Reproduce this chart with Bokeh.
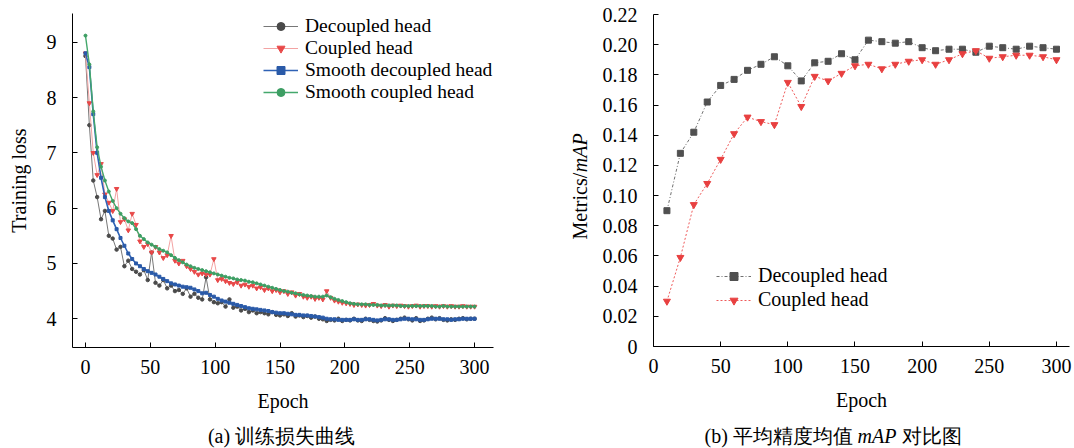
import math
from bokeh.plotting import figure
from bokeh.layouts import row, column
from bokeh.models import (Legend, LegendItem, Label, FixedTicker, CustomJSTickFormatter,
                          Range1d)
from bokeh.embed import file_html
from bokeh.resources import INLINE

FONT = "Liberation Serif"

# ---------------- data: (a) training loss ----------------
EPOCHS_A = list(range(0, 301, 3))

DECOUPLED_LOSS = [
    8.75, 7.50, 6.50, 6.20, 5.80, 5.95, 5.50, 5.45, 5.25, 5.30,
    4.95, 5.05, 4.90, 4.85, 4.80, 4.88, 4.70, 5.20, 4.65, 4.60,
    4.70, 4.55, 4.60, 4.50, 4.52, 4.45, 4.55, 4.40, 4.45, 4.38,
    4.35, 4.75, 4.35, 4.30, 4.28, 4.30, 4.22, 4.35, 4.20, 4.22,
    4.15, 4.18, 4.12, 4.15, 4.10, 4.12, 4.10, 4.08, 4.12, 4.07,
    4.06, 4.08, 4.05, 4.10, 4.04, 4.06, 4.03, 4.05, 4.02, 4.04,
    4.00, 3.99, 3.96, 3.98, 3.97, 4.00, 3.96, 3.98, 3.97, 4.00,
    3.97, 3.96, 4.00, 3.98, 3.96, 3.95, 3.97, 4.01, 3.98, 3.96,
    3.98, 4.00, 4.02, 3.99, 3.97, 4.01, 3.96, 3.97, 4.00, 4.02,
    3.99, 4.01, 3.98, 3.97, 3.99, 3.98, 4.00, 4.01, 3.99, 4.00,
    4.00,
]

COUPLED_LOSS = [
    8.80, 7.90, 7.00, 6.60, 6.80, 6.25, 6.10, 5.95, 6.35, 5.75,
    5.80, 5.60, 5.90, 5.70, 5.40, 5.30, 5.35, 5.20, 5.30, 5.20,
    5.10, 5.15, 5.50, 5.05, 5.00, 5.05, 4.95, 4.90, 4.85, 4.80,
    4.82, 4.80, 4.80, 5.08, 4.70, 4.72, 4.68, 4.65, 4.63, 4.66,
    4.60, 4.62, 4.58, 4.60, 4.55, 4.57, 4.52, 4.55, 4.50, 4.52,
    4.48, 4.50, 4.45, 4.48, 4.42, 4.45, 4.40, 4.38, 4.40, 4.36,
    4.38, 4.35, 4.50, 4.38, 4.33, 4.31, 4.29, 4.28, 4.27, 4.25,
    4.26, 4.25, 4.24, 4.25, 4.27, 4.24, 4.23, 4.25, 4.22, 4.24,
    4.23, 4.24, 4.23, 4.22, 4.23, 4.24, 4.22, 4.23, 4.23, 4.22,
    4.23, 4.22, 4.23, 4.22, 4.23, 4.22, 4.22, 4.23, 4.22, 4.22,
    4.22,
]

SMOOTH_DECOUPLED_LOSS = [
    8.80, 8.55, 7.70, 7.00, 6.55, 6.20, 5.95, 5.78, 5.62, 5.46,
    5.32, 5.18, 5.08, 5.00, 4.95, 4.90, 4.86, 4.83, 4.80, 4.76,
    4.72, 4.68, 4.64, 4.62, 4.60, 4.58, 4.57, 4.56, 4.53, 4.50,
    4.46, 4.47, 4.43, 4.40, 4.36, 4.33, 4.31, 4.29, 4.27, 4.25,
    4.23, 4.21, 4.19, 4.18, 4.17, 4.16, 4.15, 4.14, 4.12, 4.11,
    4.10, 4.10, 4.09, 4.08, 4.07, 4.07, 4.06, 4.06, 4.05, 4.04,
    4.03, 4.02, 4.00, 3.99, 3.99, 3.98, 3.98, 3.98, 3.98, 3.99,
    3.98, 3.98, 3.99, 3.99, 3.98, 3.97, 3.98, 3.99, 3.99, 3.98,
    3.98, 3.99, 4.00, 4.00, 3.99, 3.99, 3.98, 3.98, 3.99, 4.00,
    4.00, 4.00, 3.99, 3.99, 3.98, 3.99, 3.99, 4.00, 4.00, 4.00,
    4.00,
]

SMOOTH_COUPLED_LOSS = [
    9.12, 8.60, 7.75, 7.10, 6.75, 6.50, 6.30, 6.13, 6.00, 5.90,
    5.82, 5.76, 5.73, 5.62, 5.50, 5.44, 5.38, 5.34, 5.30, 5.26,
    5.23, 5.20, 5.15, 5.10, 5.06, 5.02, 4.98, 4.95, 4.92, 4.90,
    4.88, 4.86, 4.84, 4.82, 4.80, 4.78, 4.76, 4.74, 4.73, 4.71,
    4.70, 4.69, 4.67, 4.66, 4.64, 4.62, 4.60, 4.58, 4.56, 4.54,
    4.52, 4.50, 4.49, 4.47, 4.46, 4.44, 4.43, 4.42, 4.41, 4.40,
    4.40, 4.40, 4.42, 4.39, 4.36, 4.34, 4.32, 4.30, 4.28, 4.27,
    4.26, 4.26, 4.26, 4.25, 4.25, 4.25, 4.24, 4.24, 4.24, 4.24,
    4.24, 4.23, 4.23, 4.23, 4.23, 4.23, 4.23, 4.23, 4.23, 4.23,
    4.22, 4.22, 4.23, 4.22, 4.22, 4.22, 4.22, 4.22, 4.22, 4.22,
    4.22,
]

# ---------------- data: (b) mAP ----------------
EPOCHS_B = [10, 20, 30, 40, 50, 60, 70, 80, 90, 100,
            110, 120, 130, 140, 150, 160, 170, 180, 190, 200,
            210, 220, 230, 240, 250, 260, 270, 280, 290, 300]
DECOUPLED_MAP = [0.090, 0.128, 0.142, 0.162, 0.173, 0.177, 0.183, 0.187, 0.192, 0.186,
                 0.176, 0.188, 0.189, 0.194, 0.190, 0.203, 0.202, 0.201, 0.202, 0.198,
                 0.196, 0.197, 0.197, 0.195, 0.199, 0.198, 0.197, 0.199, 0.198, 0.197]
COUPLED_MAP = [0.030, 0.059, 0.094, 0.108, 0.124, 0.141, 0.152, 0.149, 0.147, 0.175,
               0.159, 0.179, 0.176, 0.181, 0.186, 0.187, 0.184, 0.187, 0.189, 0.190,
               0.187, 0.190, 0.194, 0.196, 0.191, 0.192, 0.193, 0.193, 0.192, 0.190]

X_TICKS = [0, 50, 100, 150, 200, 250, 300]
Y_TICKS_A = [4, 5, 6, 7, 8, 9]
Y_TICKS_B = [0, 0.02, 0.04, 0.06, 0.08, 0.10, 0.12, 0.14, 0.16, 0.18, 0.20, 0.22]


def style(p, x_standoff, y_standoff):
    for ax in (p.xaxis[0], p.yaxis[0]):
        ax.major_tick_in = 5
        ax.major_tick_out = 0
        ax.minor_tick_line_color = None
        ax.axis_line_color = "black"
        ax.major_tick_line_color = "black"
        ax.major_label_text_font = FONT
        ax.major_label_text_font_size = "20px"
        ax.major_label_text_color = "black"
        ax.axis_label_text_font = FONT
        ax.axis_label_text_font_style = "normal"
        ax.axis_label_text_font_size = "20px"
        ax.axis_label_text_color = "black"
    p.xaxis[0].major_label_standoff = x_standoff
    p.yaxis[0].major_label_standoff = y_standoff
    p.xgrid.visible = False
    p.ygrid.visible = False
    p.outline_line_color = None
    p.background_fill_color = None
    p.border_fill_color = None


def blank(w, h):
    f = figure(width=w, height=h, x_range=Range1d(0, w), y_range=Range1d(0, h),
               x_axis_type=None, y_axis_type=None, output_backend="svg",
               toolbar_location=None, min_border=0)
    f.grid.visible = False
    f.outline_line_color = None
    f.background_fill_color = None
    f.border_fill_color = None
    return f


def text_label(x, y, text, align="left", italic=False, angle=0.0):
    return Label(x=x, y=y, angle=angle,
                 text=text, text_align=align, text_baseline="middle",
                 text_font=FONT, text_font_style="italic" if italic else "normal",
                 text_font_size="20px", text_color="black")


H_PLOT = 415
H_CAP = 33

# ---------------- figure (a) ----------------
pa = figure(width=560, height=H_PLOT, output_backend="svg", toolbar_location=None,
            x_range=Range1d(-10, 314.6), y_range=Range1d(3.48, 9.52),
            min_border_left=72, min_border_right=67, min_border_top=13,
            min_border_bottom=H_PLOT - 347)
style(pa, 12, 16)
pa.xaxis[0].ticker = FixedTicker(ticks=X_TICKS)
pa.yaxis[0].ticker = FixedTicker(ticks=Y_TICKS_A)
pa.xaxis[0].axis_label = "Epoch"
pa.xaxis[0].axis_label_standoff = 13
pa.yaxis[0].axis_label = "Training loss"
pa.yaxis[0].axis_label_standoff = 14

g_line = pa.line(EPOCHS_A, DECOUPLED_LOSS, line_color="#777777", line_width=1)
g_pts = pa.scatter(EPOCHS_A, DECOUPLED_LOSS, marker="circle", size=3.5,
                   fill_color="#4a4a4a", line_color="#4a4a4a")
r_line = pa.line(EPOCHS_A, COUPLED_LOSS, line_color="#f3a3a3", line_width=1)
r_pts = pa.scatter(EPOCHS_A, COUPLED_LOSS, marker="inverted_triangle", size=4.5,
                   fill_color="#e84848", line_color="#e84848")
b_line = pa.line(EPOCHS_A, SMOOTH_DECOUPLED_LOSS, line_color="#2f62b5", line_width=1.6)
b_pts = pa.scatter(EPOCHS_A, SMOOTH_DECOUPLED_LOSS, marker="square", size=3,
                   fill_color="#2a5aa8", line_color="#2a5aa8")
gr_line = pa.line(EPOCHS_A, SMOOTH_COUPLED_LOSS, line_color="#44a86c", line_width=1.4)
gr_pts = pa.scatter(EPOCHS_A, SMOOTH_COUPLED_LOSS, marker="circle", size=3,
                    fill_color="#3d9e63", line_color="#3d9e63")

leg_a = Legend(items=[
    LegendItem(label="Decoupled head", renderers=[g_line, g_pts]),
    LegendItem(label="Coupled head", renderers=[r_line, r_pts]),
    LegendItem(label="Smooth decoupled head", renderers=[b_line, b_pts]),
    LegendItem(label="Smooth coupled head", renderers=[gr_line, gr_pts]),
], location=(191, 244), padding=0, margin=0, spacing=-3, glyph_width=35, glyph_height=20,
    label_height=20, label_standoff=7, label_text_font=FONT, label_text_font_size="19.5px",
    label_text_color="black", border_line_color=None, background_fill_alpha=0)
pa.add_layout(leg_a)

cap_a = blank(560, H_CAP)
cap_a.add_layout(text_label(278, 13, "(a) 训练损失曲线", align="center"))

# ---------------- y title for (b) ----------------
ylab_b = blank(30, H_PLOT)
ylab_b.add_layout(text_label(19, H_PLOT - 239.5, "Metrics/", align="center",
                             angle=math.pi / 2))
ylab_b.add_layout(text_label(19, H_PLOT - 172.8, "mAP", align="center", italic=True,
                             angle=math.pi / 2))

# ---------------- figure (b) ----------------
pb = figure(width=482, height=H_PLOT, output_backend="svg", toolbar_location=None,
            x_range=Range1d(0, 309.7), y_range=Range1d(0, 0.22),
            min_border_left=63, min_border_right=3, min_border_top=14,
            min_border_bottom=H_PLOT - 346)
style(pb, 12, 16)
pb.xaxis[0].ticker = FixedTicker(ticks=X_TICKS)
pb.yaxis[0].ticker = FixedTicker(ticks=Y_TICKS_B)
pb.yaxis[0].formatter = CustomJSTickFormatter(
    code="return Math.abs(tick) < 1e-9 ? '0' : tick.toFixed(2);")
pb.xaxis[0].axis_label = "Epoch"
pb.xaxis[0].axis_label_standoff = 13

d_line = pb.line(EPOCHS_B, DECOUPLED_MAP, line_color="#707070", line_width=1,
                 line_dash="3 2 1 2")
d_pts = pb.scatter(EPOCHS_B, DECOUPLED_MAP, marker="square", size=6,
                   fill_color="#505050", line_color="#505050")
c_line = pb.line(EPOCHS_B, COUPLED_MAP, line_color="#ee5a5a", line_width=1,
                 line_dash="2 2")
c_pts = pb.scatter(EPOCHS_B, COUPLED_MAP, marker="inverted_triangle", size=7,
                   fill_color="#e84040", line_color="#e84040")

leg_b = Legend(items=[
    LegendItem(label="Decoupled head", renderers=[d_line, d_pts]),
    LegendItem(label="Coupled head", renderers=[c_line, c_pts]),
], location=(63, 35), padding=0, margin=0, spacing=1, glyph_width=35, glyph_height=20,
    label_height=20, label_standoff=7, label_text_font=FONT, label_text_font_size="20px",
    label_text_color="black", border_line_color=None, background_fill_alpha=0)
pb.add_layout(leg_b)

# caption (b) with italic mAP
cap_b = blank(512, H_CAP)
cap_b.add_layout(text_label(144, 13, "(b) 平均精度均值"))
cap_b.add_layout(text_label(297, 13, "mAP", italic=True))
cap_b.add_layout(text_label(341, 13, "对比图"))

layout = row(column(pa, cap_a), column(row(ylab_b, pb), cap_b))
open("out.html", "w").write(file_html(layout, INLINE))
